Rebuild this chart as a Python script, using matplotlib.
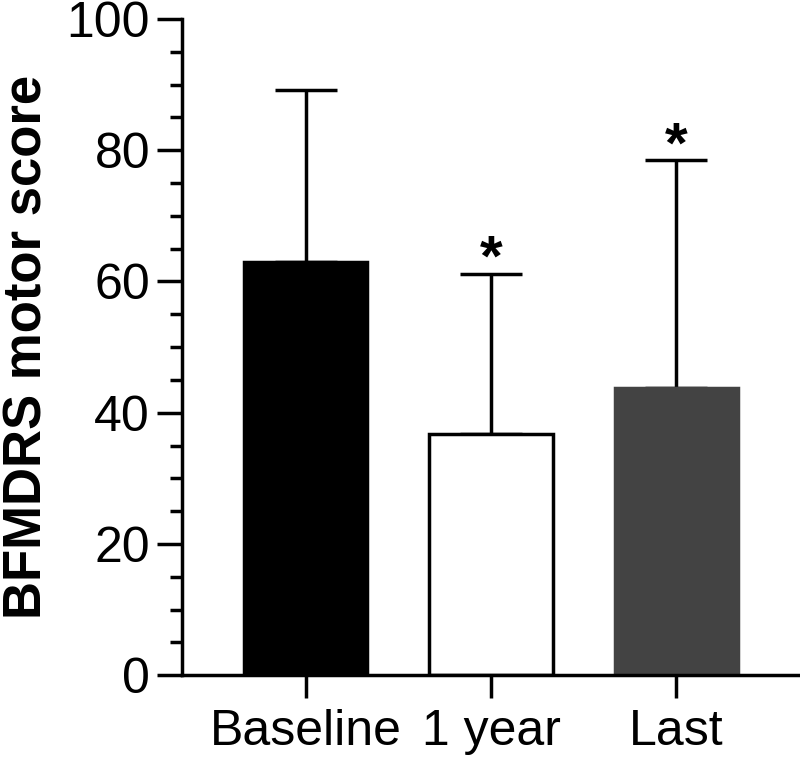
import numpy as np
import matplotlib.pyplot as plt
from matplotlib.ticker import MultipleLocator

# Data
groups = ['Baseline', '1 year', 'Last']
means = [63.0, 36.8, 43.7]
sd_upper = [26.2, 24.4, 34.8]
significant = [False, True, True]

plt.rcParams['font.family'] = ['Liberation Sans', 'DejaVu Sans']

fig = plt.figure(figsize=(8, 7.62), dpi=100)
ax = fig.add_axes([0.2275, 0.114, 0.7725, 0.861])

x = np.arange(len(groups))
colors = ['black', 'white', '#434343']
lw = 2.5

ax.bar(x, means, width=0.665, color=colors, edgecolor=['black', 'black', '#434343'],
       linewidth=lw, zorder=2)
ax.errorbar(x, means, yerr=[np.zeros(len(means)), sd_upper], fmt='none',
            ecolor='black', elinewidth=lw, capsize=22, capthick=lw, zorder=1)

for xi, m, s, sig in zip(x, means, sd_upper, significant):
    if sig:
        ax.text(xi, m + s - 2.2, '*', ha='center', va='bottom',
                fontsize=42, fontweight='bold')

ax.set_xlim(-0.67, 2.67)
ax.set_ylim(0, 100)
ax.yaxis.set_major_locator(MultipleLocator(20))
ax.yaxis.set_minor_locator(MultipleLocator(5))
ax.set_xticks(x)
ax.set_xticklabels(groups)

for side in ['top', 'right']:
    ax.spines[side].set_visible(False)
for side in ['left', 'bottom']:
    ax.spines[side].set_linewidth(lw)

ax.tick_params(axis='y', which='major', length=18, width=lw, labelsize=36, pad=5)
ax.tick_params(axis='y', which='minor', length=8.6, width=lw)
ax.tick_params(axis='x', which='major', length=16.5, width=lw, labelsize=36, pad=8)

ax.set_ylabel('BFMDRS motor score', fontsize=38, fontweight='bold', labelpad=10)

plt.savefig('out.png', dpi=100)
